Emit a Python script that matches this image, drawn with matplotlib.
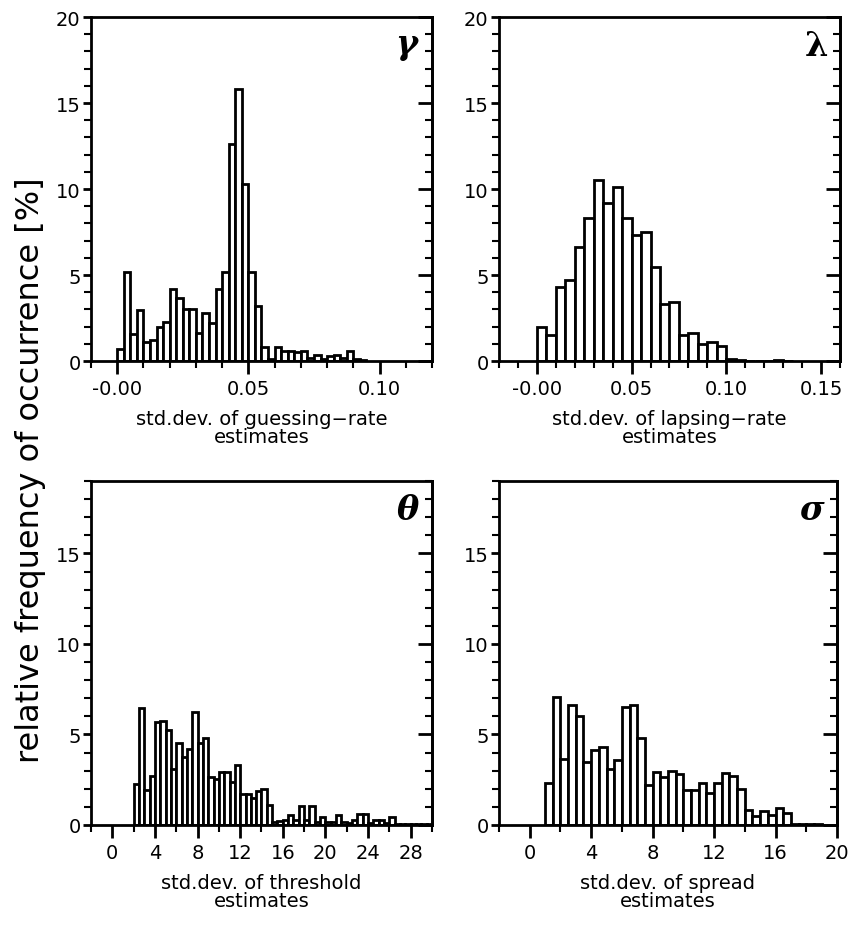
import numpy as np
import matplotlib
matplotlib.use("Agg")
import matplotlib.pyplot as plt
from matplotlib.ticker import MultipleLocator, FuncFormatter

# ---------------- data ----------------
# guessing-rate: bins of width 0.0025 starting at 0.0
gamma_start = 0.0
gamma_width = 0.0025
gamma_freq = [0.7, 5.2, 1.55, 2.95, 1.1, 1.25, 2.0, 2.25, 4.2, 3.65,
              3.0, 3.05, 1.6, 2.8, 2.2, 4.2, 5.2, 12.6, 15.8, 10.3,
              5.2, 3.2, 0.8, 0.1, 0.8, 0.6, 0.6, 0.5, 0.6, 0.2,
              0.35, 0.1, 0.3, 0.35, 0.2, 0.6, 0.1, 0.05]

# lapsing-rate: bins of width 0.005 starting at 0.0
lambda_start = 0.0
lambda_width = 0.005
lambda_freq = [2.0, 1.5, 4.3, 4.7, 6.65, 8.3, 10.5, 9.2, 10.1, 8.3,
               7.3, 7.5, 5.45, 3.3, 3.45, 1.5, 1.65, 1.0, 1.1, 0.85,
               0.1, 0.03, 0.02, 0.02, 0.02, 0.03, 0.02]

# threshold: bins of width 0.5 starting at 2.0
theta_start = 2.0
theta_width = 0.5
theta_freq = [2.27, 6.46, 1.95, 2.73, 5.67, 5.76, 5.25, 3.09, 4.51, 3.78,
              4.2, 6.26, 4.51, 4.79, 2.63, 2.54, 2.95, 2.95, 2.39, 3.31,
              1.71, 1.71, 1.5, 1.9, 2.0, 1.12, 0.15, 0.2, 0.3, 0.55,
              0.25, 1.05, 0.25, 1.05, 0.15, 0.45, 0.15, 0.15, 0.55, 0.15,
              0.1, 0.25, 0.6, 0.6, 0.1, 0.25, 0.3, 0.1, 0.45, 0.05,
              0.05, 0.05, 0.05, 0.03, 0.03, 0.03]

# spread: bins of width 0.5 starting at 1.0
sigma_start = 1.0
sigma_width = 0.5
sigma_freq = [2.3, 7.09, 3.63, 6.63, 6.02, 3.48, 4.14, 4.33, 3.08, 3.57,
              6.52, 6.63, 4.82, 2.21, 2.95, 2.65, 2.98, 2.84, 1.93, 1.93,
              2.34, 1.75, 2.34, 2.85, 2.73, 1.99, 0.83, 0.5, 0.77, 0.55,
              0.92, 0.64, 0.03, 0.03, 0.03, 0.03]

symbols = [r"$\boldsymbol{\gamma}$", "λ", r"$\boldsymbol{\theta}$", r"$\boldsymbol{\sigma}$"]
xlabels = ["std.dev. of guessing\u2212rate\nestimates",
           "std.dev. of lapsing\u2212rate\nestimates",
           "std.dev. of threshold\nestimates",
           "std.dev. of spread\nestimates"]
ylabel = "relative frequency of occurrence [%]"

# ---------------- figure ----------------
plt.rcParams["font.family"] = ["DejaVu Sans"]
plt.rcParams["mathtext.fontset"] = "dejavuserif"

fig = plt.figure(figsize=(8.53, 9.28), dpi=100)

W, H = 853.0, 928.0
def box(l, t, r, b):
    return [l / W, 1 - b / H, (r - l) / W, (b - t) / H]

axes = [fig.add_axes(box(91, 18, 432, 362)),
        fig.add_axes(box(499, 18, 840, 362)),
        fig.add_axes(box(91, 482, 432, 826)),
        fig.add_axes(box(499, 482, 837, 826))]

specs = [
    (gamma_start, gamma_width, gamma_freq, (-0.01, 0.12), 0.05, 0.01, (0, 20), "%.2f"),
    (lambda_start, lambda_width, lambda_freq, (-0.02, 0.16), 0.05, 0.01, (0, 20), "%.2f"),
    (theta_start, theta_width, theta_freq, (-2, 30), 4, 2, (0, 19), "%d"),
    (sigma_start, sigma_width, sigma_freq, (-2, 20), 4, 2, (0, 19), "%d"),
]

for ax, (start, width, freq, xlim, xmaj, xmin, ylim, fmt), sym, xl in zip(
        axes, specs, symbols, xlabels):
    freq = np.asarray(freq)
    lefts = start + width * np.arange(len(freq))
    ax.bar(lefts, freq, width=width, align="edge", facecolor="white",
           edgecolor="black", linewidth=2.0, zorder=2)
    ax.set_xlim(*xlim)
    ax.set_ylim(*ylim)
    for s in ax.spines.values():
        s.set_linewidth(2.0)
    ax.xaxis.set_major_locator(MultipleLocator(xmaj))
    ax.xaxis.set_minor_locator(MultipleLocator(xmin))
    if fmt == "%.2f":
        ax.xaxis.set_major_formatter(FuncFormatter(
            lambda v, p: "-0.00" if abs(v) < 1e-9 else "%.2f" % v))
    else:
        ax.xaxis.set_major_formatter(FuncFormatter(lambda v, p: "%d" % round(v)))
    ax.yaxis.set_major_locator(MultipleLocator(5))
    ax.yaxis.set_minor_locator(MultipleLocator(1))
    ax.tick_params(axis="x", which="major", direction="out", length=9,
                   width=2, labelsize=14, pad=4)
    ax.tick_params(axis="x", which="minor", direction="out", length=5, width=1.5)
    ax.tick_params(axis="y", which="major", direction="out", length=6,
                   width=2, labelsize=14, pad=1.5)
    ax.tick_params(axis="y", which="minor", direction="out", length=5, width=1.5)
    sec = ax.secondary_yaxis("right")
    sec.yaxis.set_major_locator(MultipleLocator(5))
    sec.yaxis.set_minor_locator(MultipleLocator(1))
    sec.tick_params(axis="y", which="major", direction="in", length=10,
                    width=2, labelright=False)
    sec.tick_params(axis="y", which="minor", direction="in", length=5, width=1.5)
    sec.spines["right"].set_linewidth(2.0)
    ax.set_xlabel(xl, fontsize=14, linespacing=0.95, labelpad=8)
    if sym == "λ":
        ax.text(0.965, 0.965, sym, transform=ax.transAxes, ha="right", va="top",
                fontsize=24, fontweight="bold", family="DejaVu Serif")
    else:
        ax.text(0.965, 0.965, sym, transform=ax.transAxes, ha="right", va="top",
                fontsize=24)

fig.text(31 / W, 1 - 470 / H, ylabel, rotation=90, ha="center", va="center",
         fontsize=23)

fig.savefig("out.png", dpi=100)
